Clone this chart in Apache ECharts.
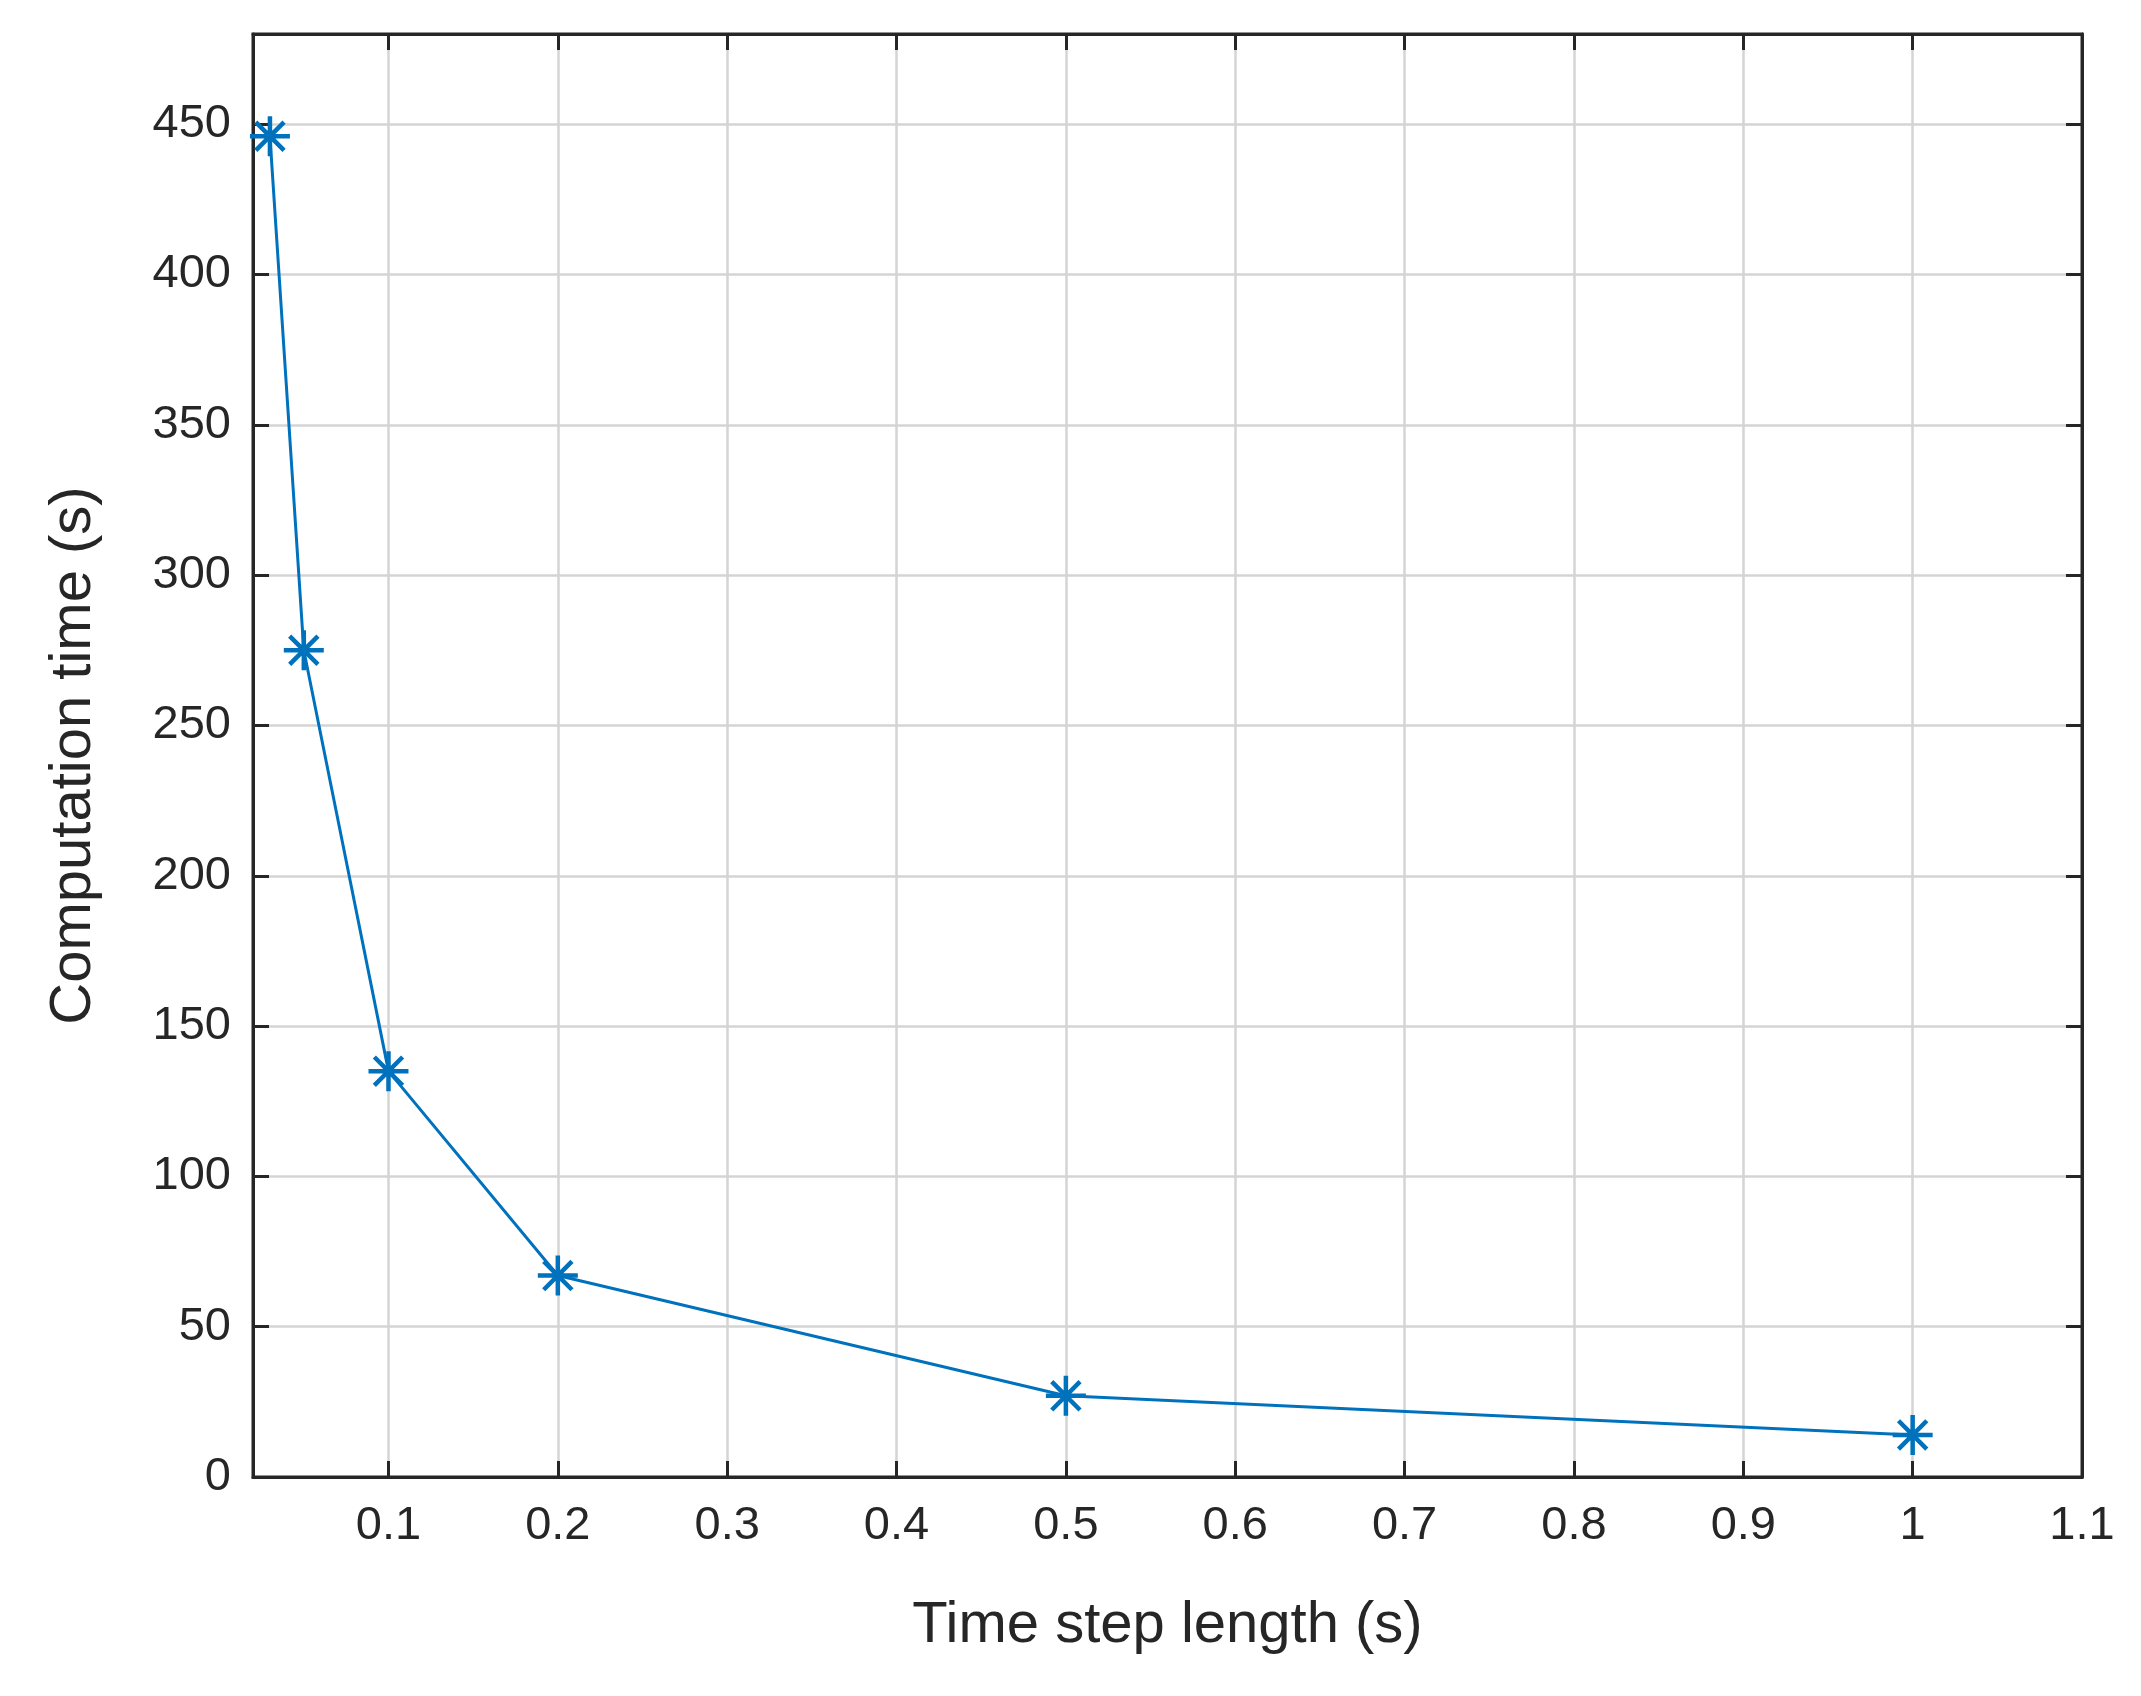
<!DOCTYPE html><html><head><meta charset="utf-8"><script src="https://cdn.jsdelivr.net/npm/echarts@6/dist/echarts.min.js"></script>
<style>html,body{margin:0;background:#fff}#c{width:2141px;height:1696px}</style></head><body><div id="c"></div><script>
const stepLength=[0.03,0.05,0.1,0.2,0.5,1.0];
const compTime=[446,275,135,67,27,14];
const xTicks=[0.1,0.2,0.3,0.4,0.5,0.6,0.7,0.8,0.9,1,1.1];
const yTicks=[0,50,100,150,200,250,300,350,400,450];
const font='Arial, Liberation Sans, sans-serif';
const star='path://M0,-10L0,10M-10,0L10,0M-7.07,-7.07L7.07,7.07M-7.07,7.07L7.07,-7.07';
const ax={type:'value',axisLine:{show:true,onZero:false,lineStyle:{color:'#262626',width:3}},
 axisTick:{show:true,inside:true,length:16,lineStyle:{color:'#262626',width:3}}};
const c=echarts.init(document.getElementById('c'));
c.setOption({animation:false,
grid:{left:253,right:59,top:34,bottom:219,show:true,borderColor:'#262626',borderWidth:3,backgroundColor:'transparent'},
xAxis:[Object.assign({},ax,{min:0.02,max:1.1,name:'Time step length (s)',nameLocation:'middle',nameGap:120,
 nameTextStyle:{fontFamily:font,fontSize:58,color:'#262626'},
 axisTick:Object.assign({},ax.axisTick,{customValues:xTicks}),
 axisLabel:{customValues:xTicks,fontFamily:font,fontSize:47,color:'#262626',margin:26,formatter:v=>String(+v.toFixed(2))},
 splitLine:{show:true,lineStyle:{color:'#d4d4d4',width:2.5}}}),
 Object.assign({},ax,{position:'top',min:0.02,max:1.1,axisTick:Object.assign({},ax.axisTick,{customValues:xTicks}),axisLabel:{show:false},splitLine:{show:false}})],
yAxis:[Object.assign({},ax,{min:0,max:480,name:'Computation time (s)',nameLocation:'middle',nameGap:150,
 nameTextStyle:{fontFamily:font,fontSize:58,color:'#262626'},
 axisTick:Object.assign({},ax.axisTick,{customValues:yTicks}),
 axisLabel:{customValues:yTicks,fontFamily:font,fontSize:47,color:'#262626',margin:22},
 splitLine:{show:true,lineStyle:{color:'#d4d4d4',width:2.5}}}),
 Object.assign({},ax,{position:'right',min:0,max:480,axisTick:Object.assign({},ax.axisTick,{customValues:yTicks}),axisLabel:{show:false},splitLine:{show:false}})],
series:[{type:'line',data:stepLength.map((x,i)=>[x,compTime[i]]),symbol:star,symbolSize:40,
 lineStyle:{color:'#0072bd',width:3},itemStyle:{color:'#0072bd',borderColor:'#0072bd',borderWidth:4.5}}]
});
</script></body></html>
